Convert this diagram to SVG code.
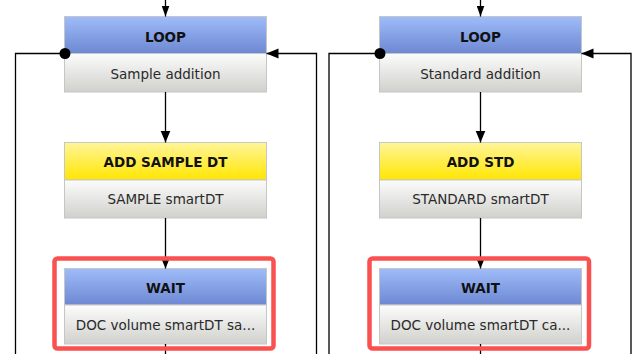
<svg xmlns="http://www.w3.org/2000/svg" width="634" height="354" viewBox="0 0 634 354">
  <defs>
    <linearGradient id="gBlue" x1="0" y1="0" x2="0" y2="1">
      <stop offset="0" stop-color="#9fbcf9"/>
      <stop offset="1" stop-color="#6d88d2"/>
    </linearGradient>
    <linearGradient id="gYellow" x1="0" y1="0" x2="0" y2="1">
      <stop offset="0" stop-color="#fff59a"/>
      <stop offset="1" stop-color="#ffe600"/>
    </linearGradient>
    <linearGradient id="gBody" x1="0" y1="0" x2="0" y2="1">
      <stop offset="0" stop-color="#fcfcfc"/>
      <stop offset="1" stop-color="#d0d0cc"/>
    </linearGradient>
    <marker id="arr" markerUnits="userSpaceOnUse" markerWidth="12" markerHeight="12" viewBox="0 0 12 10" refX="12" refY="5" orient="auto">
      <path d="M0,0 L12,5 L0,10 Z" fill="#000"/>
    </marker>
    <marker id="arrS" markerUnits="userSpaceOnUse" markerWidth="11" markerHeight="8" viewBox="0 0 11 8" refX="11" refY="4" orient="auto">
      <path d="M0,0 L11,4 L0,8 Z" fill="#000"/>
    </marker>
    <style>
      .hdr { stroke: #c6c6c6; stroke-width: 1; }
      .body { fill: url(#gBody); stroke: #c6c6c6; stroke-width: 1; }
      .blue { fill: url(#gBlue); }
      .yellow { fill: url(#gYellow); }
      .title { font-family: "DejaVu Sans", "Liberation Sans", sans-serif; font-size: 13.5px; font-weight: bold; fill: #111; text-anchor: middle; }
      .label { font-family: "DejaVu Sans", "Liberation Sans", sans-serif; font-size: 13.5px; fill: #2a2a2a; text-anchor: middle; }
      .conn { fill: none; stroke: #000; stroke-width: 1.3; }
      .hl { fill: none; stroke: #fa5050; stroke-width: 4.5; }
    </style>
  </defs>

  <g id="nodes">
    <!-- Left column -->
    <g id="loop-sample">
      <rect class="hdr blue" x="64.5" y="16.5" width="202" height="37"/>
      <rect class="body" x="64.5" y="53.5" width="202" height="38.5"/>
      <text class="title" x="165.5" y="41.5">LOOP</text>
      <text class="label" x="165.5" y="78.5">Sample addition</text>
    </g>
    <g id="add-sample-dt">
      <rect class="hdr yellow" x="64.5" y="142.5" width="202" height="37.5"/>
      <rect class="body" x="64.5" y="180" width="202" height="38"/>
      <text class="title" x="165.5" y="167">ADD SAMPLE DT</text>
      <text class="label" x="165.5" y="204">SAMPLE smartDT</text>
    </g>
    <g id="wait-sample">
      <rect class="hdr blue" x="64.5" y="268.5" width="202" height="36.5"/>
      <rect class="body" x="64.5" y="305" width="202" height="39"/>
      <text class="title" x="165.5" y="293">WAIT</text>
      <text class="label" x="165.5" y="330">DOC volume smartDT sa...</text>
    </g>
    <!-- Right column -->
    <g id="loop-standard">
      <rect class="hdr blue" x="379.5" y="16.5" width="202" height="37"/>
      <rect class="body" x="379.5" y="53.5" width="202" height="38.5"/>
      <text class="title" x="480.5" y="41.5">LOOP</text>
      <text class="label" x="480.5" y="78.5">Standard addition</text>
    </g>
    <g id="add-std">
      <rect class="hdr yellow" x="379.5" y="142.5" width="202" height="37.5"/>
      <rect class="body" x="379.5" y="180" width="202" height="38"/>
      <text class="title" x="480.5" y="167">ADD STD</text>
      <text class="label" x="480.5" y="204">STANDARD smartDT</text>
    </g>
    <g id="wait-standard">
      <rect class="hdr blue" x="379.5" y="268.5" width="202" height="36.5"/>
      <rect class="body" x="379.5" y="305" width="202" height="39"/>
      <text class="title" x="480.5" y="293">WAIT</text>
      <text class="label" x="480.5" y="330">DOC volume smartDT ca...</text>
    </g>
  </g>

  <g id="connectors">
    <!-- Left column -->
    <line class="conn" x1="165.5" y1="0" x2="165.5" y2="16.5" marker-end="url(#arrS)"/>
    <line class="conn" x1="165.5" y1="92" x2="165.5" y2="142.5" marker-end="url(#arr)"/>
    <line class="conn" x1="165.5" y1="218" x2="165.5" y2="268.5" marker-end="url(#arr)"/>
    <line class="conn" x1="165.5" y1="344" x2="165.5" y2="354"/>
    <path class="conn" d="M65,53.5 H15.5 V354"/>
    <circle cx="65" cy="53.5" r="5.5" fill="#000"/>
    <path class="conn" d="M316.5,354 V53.5 H266.5" marker-end="url(#arr)"/>
    <!-- Right column -->
    <line class="conn" x1="480.5" y1="0" x2="480.5" y2="16.5" marker-end="url(#arrS)"/>
    <line class="conn" x1="480.5" y1="92" x2="480.5" y2="142.5" marker-end="url(#arr)"/>
    <line class="conn" x1="480.5" y1="218" x2="480.5" y2="268.5" marker-end="url(#arr)"/>
    <line class="conn" x1="480.5" y1="344" x2="480.5" y2="354"/>
    <path class="conn" d="M380,53.5 H329 V354"/>
    <circle cx="380" cy="53.5" r="5.5" fill="#000"/>
    <path class="conn" d="M631,354 V53.5 H581.5" marker-end="url(#arr)"/>
  </g>

  <g id="highlights">
    <rect class="hl" x="54.5" y="258.5" width="219" height="90" rx="3"/>
    <rect class="hl" x="369.5" y="258.5" width="219.5" height="90" rx="3"/>
  </g>
</svg>
